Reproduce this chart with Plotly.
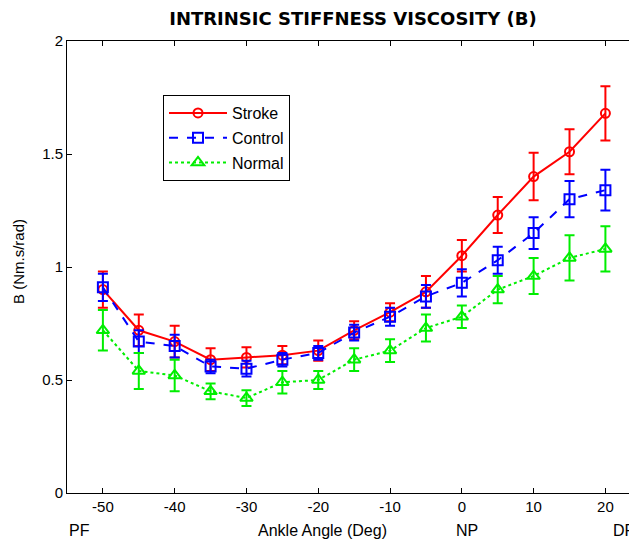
import plotly.graph_objects as go

angles = [-50, -45, -40, -35, -30, -25, -20, -15, -10, -5, 0, 5, 10, 15, 20]

stroke = [0.90, 0.72, 0.67, 0.59, 0.60, 0.61, 0.63, 0.72, 0.80, 0.89, 1.05, 1.23, 1.40, 1.51, 1.68]
stroke_err = [0.08, 0.07, 0.07, 0.05, 0.045, 0.04, 0.045, 0.04, 0.04, 0.07, 0.07, 0.08, 0.105, 0.10, 0.12]

control = [0.91, 0.67, 0.65, 0.56, 0.55, 0.59, 0.62, 0.71, 0.78, 0.87, 0.93, 1.03, 1.15, 1.30, 1.34]
control_err = [0.06, 0.05, 0.05, 0.03, 0.035, 0.03, 0.03, 0.035, 0.04, 0.05, 0.06, 0.06, 0.07, 0.08, 0.09]

normal = [0.72, 0.54, 0.52, 0.45, 0.42, 0.49, 0.50, 0.59, 0.63, 0.73, 0.78, 0.90, 0.96, 1.04, 1.08]
normal_err = [0.09, 0.08, 0.07, 0.035, 0.035, 0.05, 0.04, 0.05, 0.05, 0.06, 0.05, 0.06, 0.08, 0.10, 0.10]

x_ticks = [-50, -40, -30, -20, -10, 0, 10, 20]
y_ticks = [0, 0.5, 1, 1.5, 2]
y_tick_text = ["0", "0.5", "1", "1.5", "2"]

FONT = "Liberation Sans, Arial, sans-serif"

# page is offset by the 8px body margin
W, H = 629, 533
ML, MT, MB = 59, 33, 48
PW, PH = W - ML, H - MT - MB

series = [
    ("Stroke", stroke, stroke_err, "#ff0000", "solid", "circle-open", 9),
    ("Control", control, control_err, "#0000ff", "dash", "square-open", 10),
    ("Normal", normal, normal_err, "#00ee00", "dot", "triangle-up-open", 11),
]

fig = go.Figure()
for name, vals, errs, color, dash, sym, msize in series:
    fig.add_trace(go.Scatter(
        x=angles, y=vals, name=name, mode="lines+markers",
        legendgroup=name,
        line=dict(color=color, width=2, dash=dash),
        marker=dict(symbol=sym, size=msize, color=color, line=dict(width=2, color=color)),
        error_y=dict(type="data", array=errs, visible=True, color=color, thickness=2, width=5),
    ))

fig.update_layout(
    width=W, height=H,
    margin=dict(l=ML, r=0, t=MT, b=MB),
    paper_bgcolor="white", plot_bgcolor="white",
    font=dict(family=FONT, size=15, color="black"),
    title=dict(text="<b>INTRINSIC STIFFNESS VISCOSITY (B)</b>", x=(353 - 8) / W, xanchor="center",
               y=1 - 11 / H, yanchor="middle", font=dict(size=18, family="DejaVu Sans, sans-serif")),
    showlegend=True,
    legend=dict(x=(155 - ML) / PW, y=(PH + MT - 87) / PH, xanchor="left", yanchor="top",
                bgcolor="white", bordercolor="black", borderwidth=1, itemwidth=58,
                font=dict(size=16, family=FONT), tracegroupgap=1, traceorder="grouped"),
)
fig.update_xaxes(
    range=[-55, 24.4], tickvals=x_ticks, ticktext=[str(v) for v in x_ticks],
    ticks="inside", ticklen=5, tickcolor="black", showline=True, linecolor="black", linewidth=1,
    mirror="ticks", showgrid=False, zeroline=False, tickfont=dict(size=15),
)
fig.update_yaxes(
    range=[0, 2], tickvals=y_ticks, ticktext=y_tick_text,
    ticks="inside", ticklen=5, tickcolor="black", showline=True, linecolor="black", linewidth=1,
    mirror=False, showgrid=False, zeroline=False, tickfont=dict(size=15),
)

annots = [
    ("PF", 67, "left"),
    ("Ankle Angle (Deg)", 322, "center"),
    ("NP", 467, "center"),
    ("DF", 637, "right"),
]
for txt, px, anchor in annots:
    fig.add_annotation(text=txt, xref="paper", yref="paper", x=(px - 8 - ML) / PW, y=-(522 - (PH + MT)) / PH,
                       xanchor=anchor, yanchor="middle", showarrow=False, font=dict(size=16, family=FONT))

fig.add_annotation(text="B (Nm.s/rad)", xref="paper", yref="paper", x=-(ML - 10) / PW, y=(PH + MT - 254) / PH,
                   xanchor="center", yanchor="middle", textangle=-90, showarrow=False,
                   font=dict(size=15, family=FONT))

fig.write_html("out.html")
